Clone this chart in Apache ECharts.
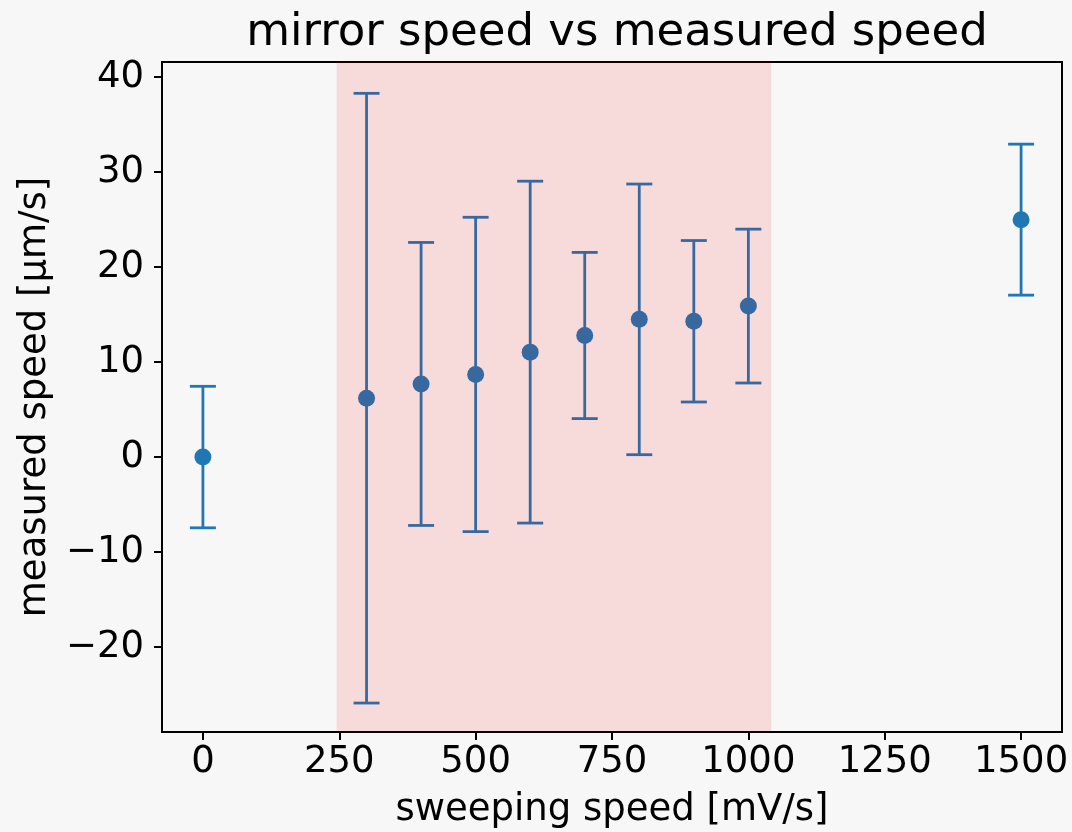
<!DOCTYPE html>
<html>
<head>
<meta charset="utf-8">
<title>mirror speed vs measured speed</title>
<script src="https://cdn.jsdelivr.net/npm/echarts@6/dist/echarts.min.js"></script>
<style>
    html, body { margin: 0; padding: 0; background: #f7f7f7; }
    #chartDiv { width: 1072px; height: 832px; }
</style>
</head>
<body>
<div id="chartDiv"></div>
<script>
// data
var sweepSpeed = [0, 300, 400, 500, 600, 700, 800, 900, 1000, 1500];
var measSpeed = [0, 6.2, 7.7, 8.7, 11.05, 12.8, 14.5, 14.3, 15.9, 25.0];
var measErr = [7.45, 32.1, 14.9, 16.55, 18.0, 8.75, 14.25, 8.5, 8.1, 7.95];
var xTicks = [0, 250, 500, 750, 1000, 1250, 1500];
var yTicks = [-20, -10, 0, 10, 20, 30, 40];
var spanRange = [245, 1042];

var C0 = '#1f77b4';
var FONT = 'DejaVu Sans';

var points = [];
var bars = [];
for (var i = 0; i < sweepSpeed.length; i++) {
    points.push([sweepSpeed[i], measSpeed[i]]);
    bars.push([sweepSpeed[i], measSpeed[i] - measErr[i], measSpeed[i] + measErr[i]]);
}

//误差棒
function renderErrorBar(params, api) {
    var x = api.value(0);
    var pLo = api.coord([x, api.value(1)]);
    var pHi = api.coord([x, api.value(2)]);
    var w = 13;
    var style = { stroke: C0, lineWidth: 2.8 };
    return {
        type: 'group',
        children: [
            { type: 'line', shape: { x1: pHi[0], y1: pHi[1], x2: pLo[0], y2: pLo[1] }, style: style },
            { type: 'line', shape: { x1: pHi[0] - w, y1: pHi[1], x2: pHi[0] + w, y2: pHi[1] }, style: style },
            { type: 'line', shape: { x1: pLo[0] - w, y1: pLo[1], x2: pLo[0] + w, y2: pLo[1] }, style: style }
        ]
    };
}

function minusFmt(v) {
    return String(v).replace('-', '\u2212');
}

var axisCommon = {
    type: 'value',
    splitLine: { show: false },
    axisLine: { show: true, onZero: false, lineStyle: { color: '#000', width: 2 } },
    axisTick: { show: true, length: 8, lineStyle: { color: '#000', width: 2 } },
    nameLocation: 'middle',
    nameTextStyle: { fontFamily: FONT, fontSize: 37, color: '#000' }
};

var option = {
    backgroundColor: '#f7f7f7',
    animation: false,
    title: {
        text: 'mirror speed vs measured speed',
        left: 612,
        textAlign: 'center',
        top: 6,
        textStyle: { fontFamily: FONT, fontSize: 45, fontWeight: 'normal', color: '#000' }
    },
    grid: {
        left: 162, right: 10, top: 62, bottom: 100,
        outerBoundsMode: 'none',
        containLabel: false,
        show: true, borderColor: '#000', borderWidth: 2, backgroundColor: 'transparent'
    },
    xAxis: Object.assign({}, axisCommon, {
        min: -75, max: 1575,
        name: 'sweeping speed [mV/s]',
        nameGap: 60,
        axisTick: Object.assign({}, axisCommon.axisTick, { customValues: xTicks }),
        axisLabel: {
            customValues: xTicks, margin: 12, formatter: minusFmt,
            fontFamily: FONT, fontSize: 37, color: '#000'
        }
    }),
    yAxis: Object.assign({}, axisCommon, {
        min: -28.95, max: 41.6,
        name: 'measured speed [\u03bcm/s]',
        nameGap: 108,
        nameRotate: 90,
        axisTick: Object.assign({}, axisCommon.axisTick, { customValues: yTicks }),
        axisLabel: {
            customValues: yTicks, margin: 18, formatter: minusFmt,
            fontFamily: FONT, fontSize: 37, color: '#000'
        }
    }),
    series: [
        {
            type: 'custom',
            renderItem: renderErrorBar,
            data: bars,
            z: 2,
            silent: true
        },
        {
            type: 'scatter',
            data: points,
            symbol: 'circle',
            symbolSize: 17,
            itemStyle: { color: C0, opacity: 1 },
            z: 3
        },
        {
            // 阴影区域，盖在点上面
            type: 'line',
            data: [],
            z: 10,
            silent: true,
            markArea: {
                silent: true,
                z: 10,
                itemStyle: { color: 'rgba(255,0,0,0.11)' },
                data: [[{ xAxis: spanRange[0] }, { xAxis: spanRange[1] }]]
            }
        }
    ]
};

var myChart = echarts.init(document.getElementById('chartDiv'));
myChart.setOption(option);
</script>
</body>
</html>
